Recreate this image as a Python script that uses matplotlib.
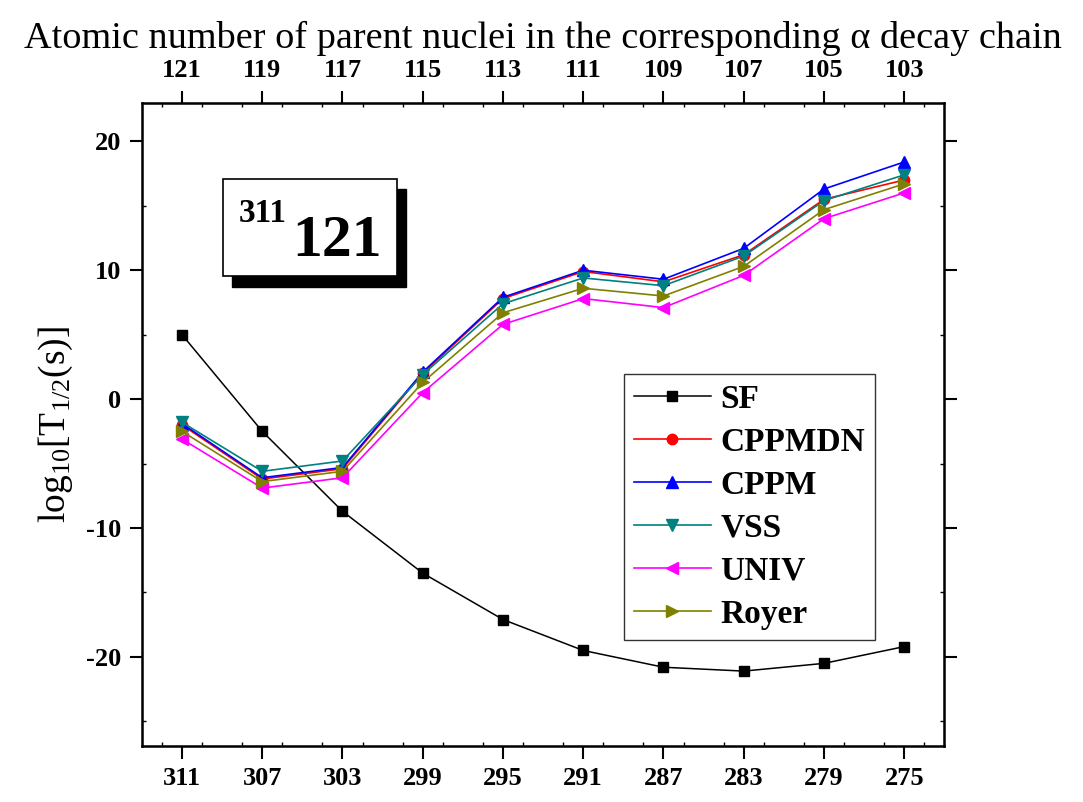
import matplotlib
matplotlib.use("Agg")
import matplotlib.pyplot as plt
from matplotlib.patches import Rectangle
from matplotlib.ticker import MultipleLocator

plt.rcParams['font.family'] = ['Liberation Serif', 'DejaVu Serif']
plt.rcParams['mathtext.fontset'] = 'custom'
plt.rcParams['mathtext.rm'] = 'Liberation Serif'
plt.rcParams['mathtext.it'] = 'Liberation Serif:italic'
plt.rcParams['mathtext.bf'] = 'Liberation Serif:bold'
plt.rcParams['axes.unicode_minus'] = False

# mass numbers along the chain and the matching parent Z
mass = [311, 307, 303, 299, 295, 291, 287, 283, 279, 275]
z_parent = [121, 119, 117, 115, 113, 111, 109, 107, 105, 103]

sf = [5.0, -2.5, -8.7, -13.5, -17.1, -19.5, -20.8, -21.1, -20.5, -19.2]
cppmdn = [-2.0, -6.2, -5.4, 2.0, 7.8, 9.9, 9.1, 11.2, 15.5, 17.0]
cppm = [-1.9, -6.1, -5.3, 2.1, 7.9, 10.0, 9.3, 11.7, 16.3, 18.4]
vss = [-1.8, -5.6, -4.8, 1.9, 7.4, 9.4, 8.8, 11.1, 15.4, 17.4]
univ = [-3.1, -6.9, -6.1, 0.5, 5.8, 7.8, 7.1, 9.6, 14.0, 16.0]
royer = [-2.5, -6.4, -5.6, 1.3, 6.7, 8.6, 8.0, 10.3, 14.7, 16.7]

fig = plt.figure(figsize=(10.83, 8.02), dpi=100)
ax = fig.add_axes([0.131, 0.070, 0.741, 0.802])

ax.plot(mass, sf, color='black', marker='s', ms=7, lw=1.1, label='SF')
ax.plot(mass, cppmdn, color='red', marker='o', ms=7.5, lw=1.2, label='CPPMDN')
ax.plot(mass, cppm, color='blue', marker='^', ms=9, lw=1.2, label='CPPM')
ax.plot(mass, vss, color='#008080', marker='v', ms=9, lw=1.2, label='VSS')
ax.plot(mass, univ, color='magenta', marker='<', ms=9, lw=1.2, label='UNIV')
ax.plot(mass, royer, color='#808000', marker='>', ms=9, lw=1.2, label='Royer')

ax.set_xlim(313, 273)
ax.set_ylim(-26.9, 23.0)
ax.set_xticks(mass)
ax.xaxis.set_minor_locator(MultipleLocator(2))
ax.yaxis.set_major_locator(MultipleLocator(10))
ax.yaxis.set_minor_locator(MultipleLocator(5))
for s in ax.spines.values():
    s.set_linewidth(1.8)
ax.tick_params(which='major', direction='out', length=9, width=1.5,
               labelsize=19, pad=6)
ax.tick_params(which='minor', direction='in', length=3, width=1.0)
ax.tick_params(axis='y', which='both', right=True)
for lab in ax.get_xticklabels() + ax.get_yticklabels():
    lab.set_fontweight('bold')

ax.set_ylabel(r'log$_{10}$[T$_{1/2}$(s)]', fontsize=27, labelpad=8)

# top axis with the parent atomic numbers
ax2 = ax.twiny()
ax2.set_xlim(ax.get_xlim())
ax2.set_xticks(mass)
ax2.set_xticklabels([str(z) for z in z_parent], fontweight='bold')
ax2.xaxis.set_minor_locator(MultipleLocator(2))
ax2.tick_params(which='major', direction='out', length=9, width=1.5,
                labelsize=19, pad=6)
ax2.tick_params(which='minor', direction='in', length=3, width=1.0)
ax2.set_xlabel('Atomic number of parent nuclei in the corresponding α decay chain',
               fontsize=27.5, labelpad=8)

# nucleus label box with drop shadow
ax.add_patch(Rectangle((0.112, 0.714), 0.217, 0.152, transform=ax.transAxes,
                       facecolor='black', edgecolor='black', zorder=5))
ax.add_patch(Rectangle((0.1006, 0.731), 0.217, 0.150, transform=ax.transAxes,
                       facecolor='white', edgecolor='black', lw=1.2, zorder=6))
ax.text(0.243, 0.762, '121', transform=ax.transAxes, fontsize=43,
        fontweight='bold', ha='center', va='baseline', zorder=7)
ax.text(0.151, 0.815, '311', transform=ax.transAxes, fontsize=24,
        fontweight='bold', ha='center', va='baseline', zorder=7)

leg = ax.legend(loc='upper left', bbox_to_anchor=(0.6006, 0.5785),
                prop={'weight': 'bold', 'size': 24}, frameon=True,
                fancybox=False, edgecolor='black', handlelength=2.3,
                handletextpad=0.3, labelspacing=0.36, borderpad=0.3,
                borderaxespad=0)
leg.get_frame().set_linewidth(1.0)

fig.savefig('out.png', dpi=100)
